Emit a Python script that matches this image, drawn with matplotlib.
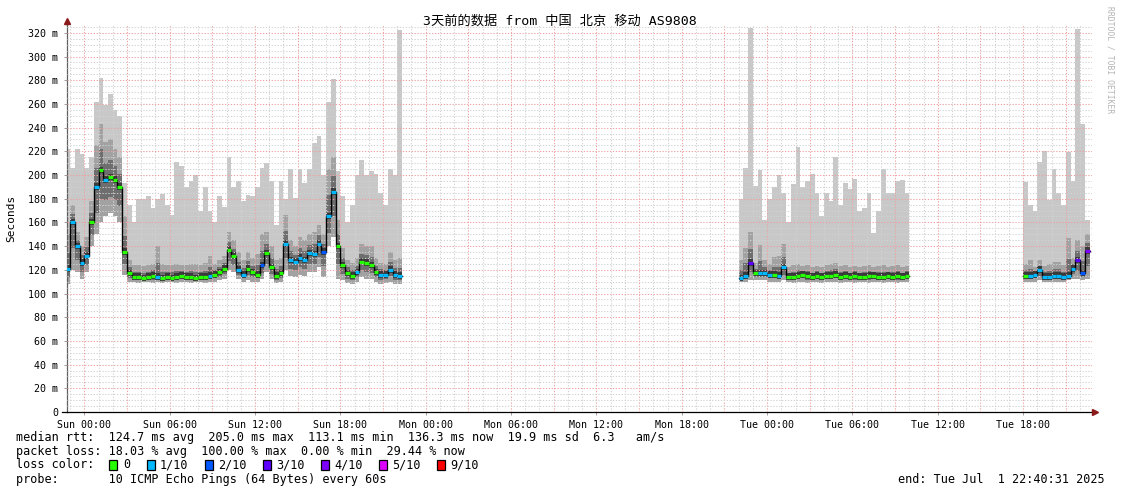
import numpy as np
import matplotlib
matplotlib.use("Agg")
import matplotlib.pyplot as plt
from matplotlib.patches import Rectangle
from matplotlib.lines import Line2D

# time in hours since Sun 00:00, one bin = 20 minutes
a_start = -1.3333
b_start = 46.0
c_start = 66.0

# segment A: Sat 22:40 .. Sun 22:20
a_median = [121, 160, 140, 126, 132, 160, 190, 204, 196, 198, 196, 190, 135, 117,
            114, 114, 113, 114, 115, 114, 113, 114, 113, 114, 115, 114, 114, 113, 114, 114, 115, 116, 118, 121,
            137, 132, 120, 116, 121, 118, 116, 124, 134, 122, 115, 117, 142,
            128, 127, 130, 128, 134, 133, 142, 135, 165, 186, 140, 124, 117, 115, 118, 127, 126, 124, 118, 116, 116, 120, 116, 115]
a_loss = [1, 1, 1, 1, 1, 0, 1, 0, 1, 0, 0, 0, 0, 0,
          0, 0, 0, 0, 0, 1, 0, 0, 0, 0, 0, 0, 0, 0, 0, 0, 1, 0, 0, 0,
          0, 0, 1, 1, 0, 0, 0, 2, 0, 0, 0, 0, 1,
          1, 1, 1, 1, 1, 1, 1, 2, 1, 1, 0, 0, 0, 0, 1, 0, 0, 0, 0, 1, 1, 1, 1, 1]
a_max = [222, 206, 222, 218, 206, 215, 262, 282, 259, 268, 255, 250, 193, 175,
         160, 180, 180, 182, 172, 180, 184, 175, 166, 211,
         208, 190, 195, 200, 170, 190, 170, 160, 182, 173, 215, 190, 195, 178, 183, 182, 190, 206, 210, 195, 158, 195, 180,
         205, 181, 205, 193, 205, 227, 233, 200, 262, 281, 203, 182, 160, 175, 200, 213, 200, 203, 201, 185, 175, 205, 200, 322]
a_hi = [150, 175, 152, 140, 148, 178, 225, 243, 228, 230, 222, 215, 165, 128,
        124, 124, 123, 124, 125, 140, 125, 124, 124, 125,
        124, 124, 125, 125, 124, 126, 132, 125, 128, 132, 152, 145, 135, 128, 135, 130, 133, 150, 152, 140, 128, 130, 166,
        145, 140, 148, 145, 150, 152, 158, 150, 205, 215, 162, 138, 128, 126, 130, 142, 140, 140, 130, 126, 125, 135, 128, 130]
a_lo = [108, 120, 118, 112, 118, 140, 150, 160, 165, 168, 165, 160, 116, 110,
        110, 109, 110, 110, 109, 110, 109, 110, 110, 109,
        110, 110, 109, 110, 110, 109, 110, 110, 111, 112, 120, 118, 112, 110, 111, 110, 110, 112, 118, 112, 109, 110, 120,
        115, 114, 116, 115, 118, 118, 122, 114, 140, 148, 112, 111, 109, 108, 110, 114, 112, 112, 110, 108, 109, 110, 108, 108]

# segment B: Mon 22:00 .. Tue 10:00
b_median = [113, 115, 126, 117, 117, 117, 116, 116, 115, 122, 114, 114, 115, 116, 115, 114, 115, 114,
            115, 115, 116, 114, 115, 114, 115, 114, 114, 115, 115, 114, 114, 115, 114, 115, 114, 115]
b_loss = [1, 1, 3, 0, 1, 1, 1, 0, 1, 1, 0, 0, 0, 0, 0, 0, 0, 0,
          0, 0, 0, 0, 0, 0, 0, 0, 0, 0, 0, 0, 0, 0, 0, 0, 0, 0]
b_max = [180, 206, 324, 191, 204, 162, 180, 190, 200, 185, 160, 192, 224, 190, 195, 201, 185, 165,
         185, 178, 215, 175, 193, 188, 197, 170, 172, 185, 151, 170, 205, 185, 185, 195, 196, 185]
b_hi = [128, 138, 152, 126, 141, 128, 125, 131, 132, 142, 122, 124, 125, 123, 124, 122, 123, 122,
        124, 125, 126, 123, 124, 122, 123, 122, 123, 124, 122, 123, 124, 122, 123, 124, 122, 123]
b_lo = [110, 110, 111, 111, 111, 111, 110, 110, 110, 111, 110, 109, 110, 110, 109, 110, 110, 109,
        110, 110, 110, 109, 110, 110, 109, 110, 110, 109, 110, 110, 109, 110, 110, 109, 110, 110]

# segment C: Tue 18:00 .. 22:40
c_median = [115, 115, 116, 120, 114, 114, 115, 115, 114, 115, 121, 128, 117, 136]
c_loss = [0, 1, 1, 1, 1, 1, 1, 1, 1, 1, 1, 3, 2, 4]
c_max = [194, 175, 170, 211, 220, 179, 205, 185, 175, 219, 195, 323, 243, 162]
c_hi = [125, 128, 122, 128, 123, 125, 127, 127, 124, 147, 130, 145, 140, 150]
c_lo = [110, 110, 110, 111, 110, 110, 110, 110, 110, 111, 112, 112, 111, 112]

loss_colors = {0: '#26ff00', 1: '#00b8ff', 2: '#0059ff', 3: '#5e00ff',
               4: '#7e00ff', 5: '#dd00ff', 9: '#ff0000'}
legend_keys = [0, 1, 2, 3, 4, 5, 9]
legend_labels = ['0', '1/10', '2/10', '3/10', '4/10', '5/10', '9/10']

W, H = 1121, 494
MONO = 'DejaVu Sans Mono'

fig = plt.figure(figsize=(W / 100, H / 100), dpi=100)
fig.patch.set_facecolor('white')
ax_l, ax_r, ax_t, ax_b = 66.7, 1091.7, 25, 412
ax = fig.add_axes([ax_l / W, 1 - ax_b / H, (ax_r - ax_l) / W, (ax_b - ax_t) / H])
ax.set_xlim(-1.237, 70.82)
ax.set_ylim(0, 326.6)


def ext(v):
    return np.append(v, v[-1])


def draw_segment(t0, med, lo, hi, mx, loss):
    med, lo, hi, mx = (np.asarray(v, dtype=float) for v in (med, lo, hi, mx))
    n = len(med)
    edges = t0 + np.arange(n + 1) / 3.0
    ax.fill_between(edges, ext(lo), ext(mx), step='post', color='#c8c8c8', lw=0, zorder=1)
    ax.fill_between(edges, ext(lo), ext(hi), step='post', color='#a2a2a2', lw=0, zorder=1.1)
    in_lo = med - (med - lo) * 0.55
    in_hi = med + (hi - med) * 0.45
    ax.fill_between(edges, ext(in_lo), ext(in_hi), step='post', color='#6e6e6e', lw=0, zorder=1.2)
    ax.fill_between(edges, ext(med - 2.5), ext(med + 3), step='post', color='#3a3a3a', lw=0, zorder=1.3)
    ax.step(edges, ext(med), where='post', color='black', lw=1.0, zorder=4)
    for i in range(n):
        ax.hlines(med[i], edges[i], edges[i + 1], color=loss_colors[loss[i]], lw=2.3, zorder=5)


draw_segment(a_start, a_median, a_lo, a_hi, a_max, a_loss)
draw_segment(b_start, b_median, b_lo, b_hi, b_max, b_loss)
draw_segment(c_start, c_median, c_lo, c_hi, c_max, c_loss)

# grid (drawn over the smoke like rrdtool)
dots = (0, (1.2, 1.6))
for h in range(-1, 71):
    col = '#f0a0a0' if h % 3 == 0 else '#d2d2d2'
    ax.axvline(h, color=col, lw=0.75, ls=dots, zorder=3)
for v in range(5, 330, 5):
    col = '#f0a0a0' if v % 20 == 0 else '#d2d2d2'
    ax.axhline(v, color=col, lw=0.75, ls=dots, zorder=3)

# axes
for s in ('top', 'right'):
    ax.spines[s].set_visible(False)
ax.spines['left'].set_color('#606060')
ax.spines['left'].set_linewidth(0.9)
ax.spines['bottom'].set_color('black')
ax.spines['bottom'].set_linewidth(0.9)
ax.set_facecolor('white')

yt = list(range(0, 321, 20))
ax.set_yticks(yt)
ax.set_yticklabels(['0' if v == 0 else f'{v} m' for v in yt], family=MONO, fontsize=7.2)
days = {0: 'Sun', 1: 'Mon', 2: 'Tue'}
xt = list(range(0, 67, 6))
ax.set_xticks(xt)
ax.set_xticklabels([f'{days[h // 24]} {h % 24:02d}:00' for h in xt], family=MONO, fontsize=7.2)
ax.tick_params(axis='both', length=2, width=0.6, color='#909090', pad=4)

# axis extensions and arrows
arrow_col = '#8b1a1a'
fig.add_artist(Line2D([ax_l / W, ax_l / W], [1 - ax_t / H, 1 - 21 / H], color='#606060', lw=0.9))
fig.add_artist(Line2D([62 / W, ax_l / W], [1 - ax_b / H, 1 - ax_b / H], color='black', lw=0.9))
fig.add_artist(Line2D([ax_r / W, 1094 / W], [1 - ax_b / H, 1 - ax_b / H], color='black', lw=0.9))
fig.add_artist(Line2D([ax_l / W], [1 - 21 / H], marker='^', ms=4.5, color=arrow_col, lw=0))
fig.add_artist(Line2D([1095 / W], [1 - ax_b / H], marker='>', ms=4.5, color=arrow_col, lw=0))


def ftext(x, y, s, **kw):
    fig.text(x / W, 1 - y / H, s, **kw)


ftext(560, 21, '3天前的数据 from 中国 北京 移动 AS9808', ha='center', va='center',
      family=[MONO, 'Noto Sans CJK SC'], fontsize=9.5)
ftext(11, 218, 'Seconds', rotation=90, ha='center', va='center', family=MONO, fontsize=8)
ftext(1110, 60, 'RRDTOOL / TOBI OETIKER', rotation=270, ha='center', va='center',
      family=MONO, fontsize=5.8, color='#b4b4b4')

ftext(16, 437, 'median rtt:  124.7 ms avg  205.0 ms max  113.1 ms min  136.3 ms now  19.9 ms sd  6.3   am/s',
      va='center', family=MONO, fontsize=8.5)
ftext(16, 451, 'packet loss: 18.03 % avg  100.00 % max  0.00 % min  29.44 % now',
      va='center', family=MONO, fontsize=8.5)
ftext(16, 465, 'loss color:', va='center', family=MONO, fontsize=8.5)
box_x = [108.5, 146.5, 204.5, 262.5, 320.5, 378.5, 436.5]
for bx, key, lab in zip(box_x, legend_keys, legend_labels):
    fig.add_artist(Rectangle((bx / W, 1 - 470 / H), 8 / W, 10 / H, transform=fig.transFigure,
                             facecolor=loss_colors[key], edgecolor='black', lw=0.9))
    ftext(bx + 15 if lab == '0' else bx + 13.5, 465, lab, va='center', family=MONO, fontsize=8.5)
ftext(16, 479, 'probe:       10 ICMP Echo Pings (64 Bytes) every 60s',
      va='center', family=MONO, fontsize=8.5)
ftext(1105, 479, 'end: Tue Jul  1 22:40:31 2025', ha='right', va='center', family=MONO, fontsize=8.5)

fig.savefig('out.png', dpi=100, facecolor='white')
